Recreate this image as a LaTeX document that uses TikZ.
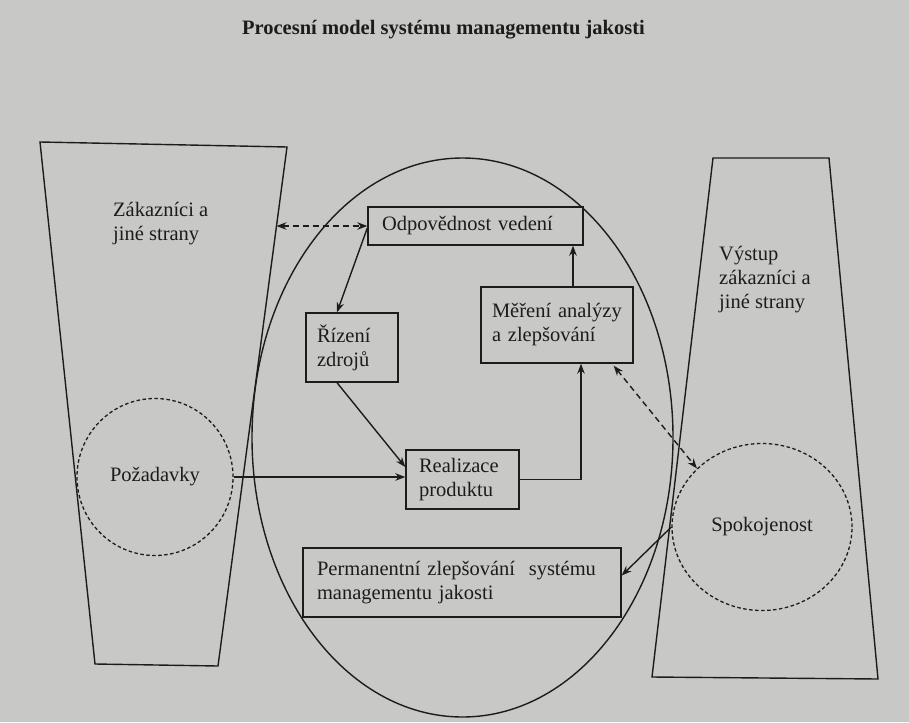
\documentclass[tikz,border=0pt]{standalone}
\usepackage{fontspec}
\setmainfont{Liberation Serif}
\usetikzlibrary{shapes.geometric,arrows.meta,calc}
\definecolor{paper}{RGB}{200,200,198}
\definecolor{ink}{RGB}{28,28,28}
\tikzset{
  ln/.style={draw=ink,line width=1.4pt},
  txt/.style={text=ink,font=\fontsize{20.5}{24}\selectfont,align=left,inner sep=0pt},
  boxnode/.style={ln,txt,inner ysep=0pt},
  arr/.style={ln,-{Stealth[length=10pt,width=7.5pt]}},
  darr/.style={ln,{Stealth[length=10pt,width=7.5pt]}-{Stealth[length=10pt,width=7.5pt]},dash pattern=on 6pt off 4pt},
  dcirc/.style={ln,line width=1.3pt,dash pattern=on 3.5pt off 2.5pt,txt}
}
\begin{document}
\begin{tikzpicture}[x=1pt,y=-1pt]
\useasboundingbox (0,0) rectangle (909,722);
\fill[paper] (0,0) rectangle (909,722);

% title
\node[txt,font=\fontsize{20.5}{24}\selectfont\bfseries,anchor=base] (title) at (443.5,35) {Procesní model systému managementu jakosti};

% side trapezoids
\draw[ln] (40,142) -- (287,147) -- (218,666) -- (95,664) -- cycle;
\draw[ln] (713,158) -- (829,158) -- (878,679) -- (652,677) -- cycle;
\coordinate (ltedge) at (276.5,226);

% big ellipse
\node[ln,ellipse,minimum width=421pt,minimum height=559pt,inner sep=0pt] (sys) at (462.5,437.5) {};

% side texts
\node[txt,anchor=west] (zak) at (113,224) {Zákazníci a\\jiné strany};
\node[txt,anchor=west] (vys) at (719,280) {Výstup\\zákazníci a\\jiné strany};

% dashed circles
\node[dcirc,ellipse,minimum width=156pt,minimum height=157pt] (poz) at (155,477) {Požadavky};
\node[dcirc,ellipse,minimum width=180pt,minimum height=167pt] (spok) at (762,527) {Spokojenost};

% boxes
\node[boxnode,inner xsep=14pt,text width=187pt,minimum height=38pt] (odp) at (475.5,226) {Odpovědnost vedení};
\node[boxnode,inner xsep=11pt,text width=70pt,minimum height=69pt] (riz) at (352,347.5) {Řízení\\zdrojů};
\node[boxnode,inner xsep=11pt,text width=130pt,minimum height=76pt] (mer) at (557,325) {Měření analýzy\\a zlepšování};
\node[boxnode,inner xsep=13pt,text width=87pt,minimum height=59pt] (real) at (462.5,479.5) {Realizace\\produktu};
\node[boxnode,inner xsep=14pt,text width=290pt,minimum height=69pt] (perm) at (462,582.5) {Permanentní zlepšování \ systému\\managementu jakosti};

% connectors
\draw[darr] (ltedge) -- (ltedge -| odp.west);
\draw[arr] ([yshift=-2pt]odp.west) -- ([xshift=-15pt]riz.north);
\draw[arr] ([xshift=-15pt]riz.south) -- ([yshift=12.5pt]real.west);
\draw[arr] (poz.east) -- (poz.east -| real.west);
\draw[arr] (real.east) -| ([xshift=24pt]mer.south);
\draw[arr] ([xshift=16pt]mer.north) -- ([xshift=16pt]mer.north |- odp.south);
\draw[darr] ([xshift=-20pt,yshift=-2pt]mer.south east) -- (spok.138);
\draw[arr] (spok.west) -- ([yshift=7pt]perm.east);
\end{tikzpicture}
\end{document}
